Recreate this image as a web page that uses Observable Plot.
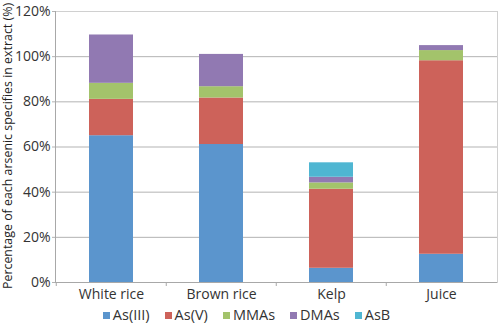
<!DOCTYPE html>
<html><head><meta charset="utf-8">
<script src="https://cdn.jsdelivr.net/npm/d3@7"></script>
<script src="https://cdn.jsdelivr.net/npm/@observablehq/plot@0.6"></script>
<style>
body{margin:0;background:#fff;font-family:"Open Sans",sans-serif;overflow:hidden}
#legend{display:flex;justify-content:center;font-size:14.5px;line-height:18px;color:#333;height:18px;align-items:center;padding-left:10px;margin-top:2px}
#legend span.item{display:inline-flex;align-items:center;margin-right:15px}
#legend span.sw{width:7px;height:7px;display:inline-block;margin-right:3px}
</style></head>
<body><div id="chart" style="height:304px"></div>
<script>
const categories = ["White rice", "Brown rice", "Kelp", "Juice"];
const species = ["As(III)", "As(V)", "MMAs", "DMAs", "AsB"];
const asIII = [65.0, 61.1, 6.3, 12.5];
const asV   = [16.1, 20.6, 35.0, 85.7];
const mmas  = [7.1, 5.0, 2.8, 4.5];
const dmas  = [21.4, 14.3, 2.5, 2.2];
const asb   = [0, 0, 6.4, 0];
const yTicks = [0, 20, 40, 60, 80, 100, 120];
const colors = ["#5b95cd", "#cd625a", "#a3c36b", "#9179b2", "#4fb6d2"];

const series = [asIII, asV, mmas, dmas, asb];
const rows = [];
categories.forEach((c, i) => series.forEach((s, j) => rows.push({category: c, species: species[j], value: s[i]})));

const chart = Plot.plot({
  width: 498, height: 304,
  marginLeft: 55, marginRight: 1, marginTop: 11, marginBottom: 22,
  style: {fontFamily: "Open Sans, sans-serif", fontSize: "14px", color: "#333", background: "#fff", display: "block"},
  x: {domain: categories, paddingInner: 0.6, paddingOuter: 0.3, label: null, tickSize: 0, tickPadding: 7},
  y: {domain: [0, 120], ticks: yTicks, tickFormat: d => d + "%", label: null, tickSize: 0, tickPadding: 5},
  color: {domain: species, range: colors},
  marks: [
    Plot.ruleY(yTicks, {stroke: "#b3b3b3", strokeWidth: 1, strokeOpacity: 1, insetLeft: -3}),
    Plot.frame({stroke: "#d0d0d0"}),
    Plot.ruleX(categories, {x: d => d, dx: -55.25, y1: 0, y2: 0, stroke: "#a8a8a8", insetBottom: -4}),
    Plot.barY(rows, {x: "category", y: "value", fill: "species"}),
    Plot.ruleY([0], {stroke: "#a8a8a8"})
  ]
});
document.getElementById("chart").appendChild(chart);

const svg = d3.select(chart);
svg.append("line").attr("x1", 55.5).attr("x2", 55.5).attr("y1", 11).attr("y2", 282)
  .attr("stroke", "#a8a8a8");
svg.append("text")
  .attr("transform", "translate(12,146) rotate(-90)")
  .attr("text-anchor", "middle")
  .attr("font-size", "12.4px")
  .attr("fill", "#222")
  .text("Percentage of each arsenic specifies in extract (%)");

const leg = d3.select("body").append("div").attr("id", "legend");
species.forEach((s, i) => {
  const it = leg.append("span").attr("class", "item");
  it.append("span").attr("class", "sw").style("background", colors[i]);
  it.append("span").text(s);
});
</script></body></html>
